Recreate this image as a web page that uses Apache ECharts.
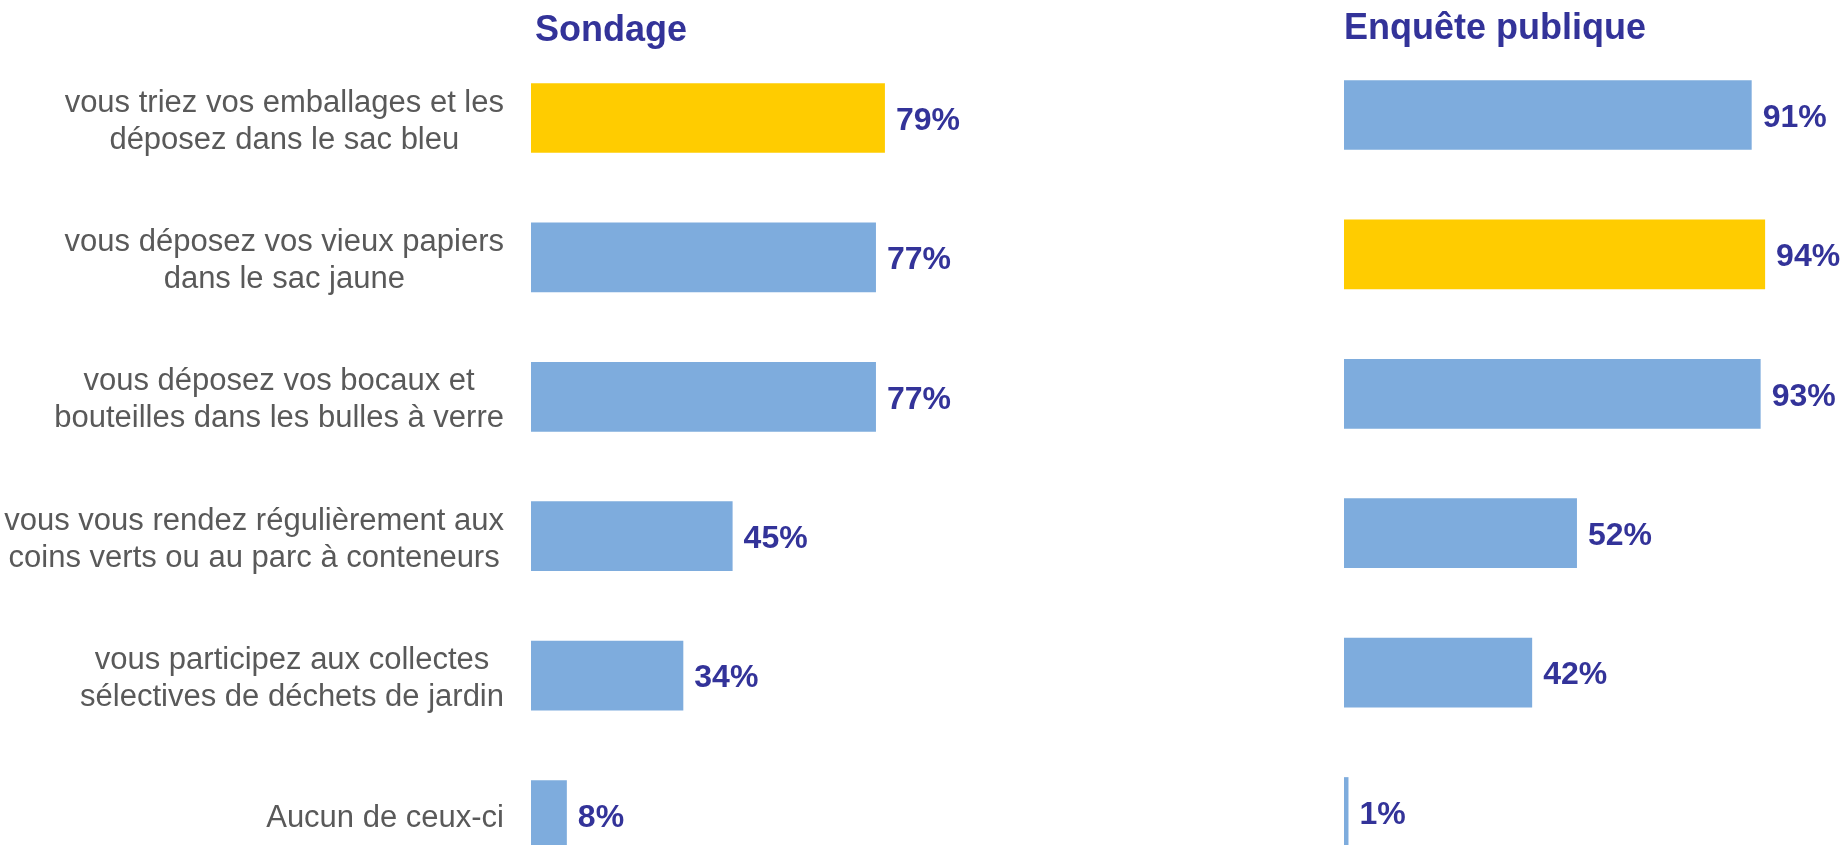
<!DOCTYPE html>
<html>
<head>
<meta charset="utf-8">
<script src="https://cdn.jsdelivr.net/npm/echarts@6/dist/echarts.min.js"></script>
<style>
html,body{margin:0;padding:0;background:#fff;overflow:hidden;width:1841px;height:845px;}
#chart{width:1841px;height:900px;}
</style>
</head>
<body>
<div id="chart"></div>
<script>
const categories = [
  "vous triez vos emballages et les\ndéposez dans le sac bleu",
  "vous déposez vos vieux papiers\ndans le sac jaune",
  "vous déposez vos bocaux et\nbouteilles dans les bulles à verre",
  "vous vous rendez régulièrement aux\ncoins verts ou au parc à conteneurs",
  "vous participez aux collectes\nsélectives de déchets de jardin",
  "Aucun de ceux-ci"
];
const sondageValues = [79, 77, 77, 45, 34, 8];
const enqueteValues = [91, 94, 93, 52, 42, 1];
const sondageHighlight = 0;
const enqueteHighlight = 1;
const panelTitles = ["Sondage", "Enquête publique"];

const BLUE = "#7EACDD", YELLOW = "#FFCC00", NAVY = "#333399", GREY = "#595959";
const FONT = "'Liberation Sans', Arial, sans-serif";

function colored(values, hi) {
  return values.map((v, i) => ({ value: v, itemStyle: { color: i === hi ? YELLOW : BLUE } }));
}

const chart = echarts.init(document.getElementById('chart'), null, { renderer: 'canvas' });
const band = 139.4;
const valueLabel = { show: true, position: 'right', distance: 11, formatter: '{c}%',
  offset: [0, 3],
  fontFamily: FONT, fontSize: 32, fontWeight: 'bold', color: NAVY };
const option = {
  animation: false,
  backgroundColor: '#ffffff',
  title: [
    { text: panelTitles[0], left: 535, top: 13, padding: 0,
      textStyle: { fontFamily: FONT, fontSize: 36, fontWeight: 'bold', color: NAVY } },
    { text: panelTitles[1], left: 1344, top: 11, padding: 0,
      textStyle: { fontFamily: FONT, fontSize: 36, fontWeight: 'bold', color: NAVY } }
  ],
  grid: [
    { left: 531, top: 48.3, width: 448, height: band * 6 },
    { left: 1344, top: 45.3, width: 448, height: band * 6 }
  ],
  xAxis: [
    { type: 'value', gridIndex: 0, min: 0, max: 100, show: false },
    { type: 'value', gridIndex: 1, min: 0, max: 100, show: false }
  ],
  yAxis: [
    { type: 'category', gridIndex: 0, data: categories, inverse: true,
      axisLine: { show: false }, axisTick: { show: false }, splitLine: { show: false },
      axisLabel: { margin: 27, align: 'right', padding: [7, 0, 0, 0],
        fontFamily: FONT, fontSize: 31, lineHeight: 37, color: GREY,
        formatter: v => v.split('\n').map(l => '{c|' + l + '}').join('\n'),
        rich: { c: { fontFamily: FONT, fontSize: 31, lineHeight: 37, color: GREY, align: 'center' } } } },
    { type: 'category', gridIndex: 1, data: categories, inverse: true,
      axisLine: { show: false }, axisTick: { show: false }, splitLine: { show: false },
      axisLabel: { show: false } }
  ],
  series: [
    { type: 'bar', xAxisIndex: 0, yAxisIndex: 0, barWidth: '50%',
      data: colored(sondageValues, sondageHighlight), label: valueLabel },
    { type: 'bar', xAxisIndex: 1, yAxisIndex: 1, barWidth: '50%',
      data: colored(enqueteValues, enqueteHighlight), label: valueLabel }
  ]
};
chart.setOption(option);
</script>
</body>
</html>
